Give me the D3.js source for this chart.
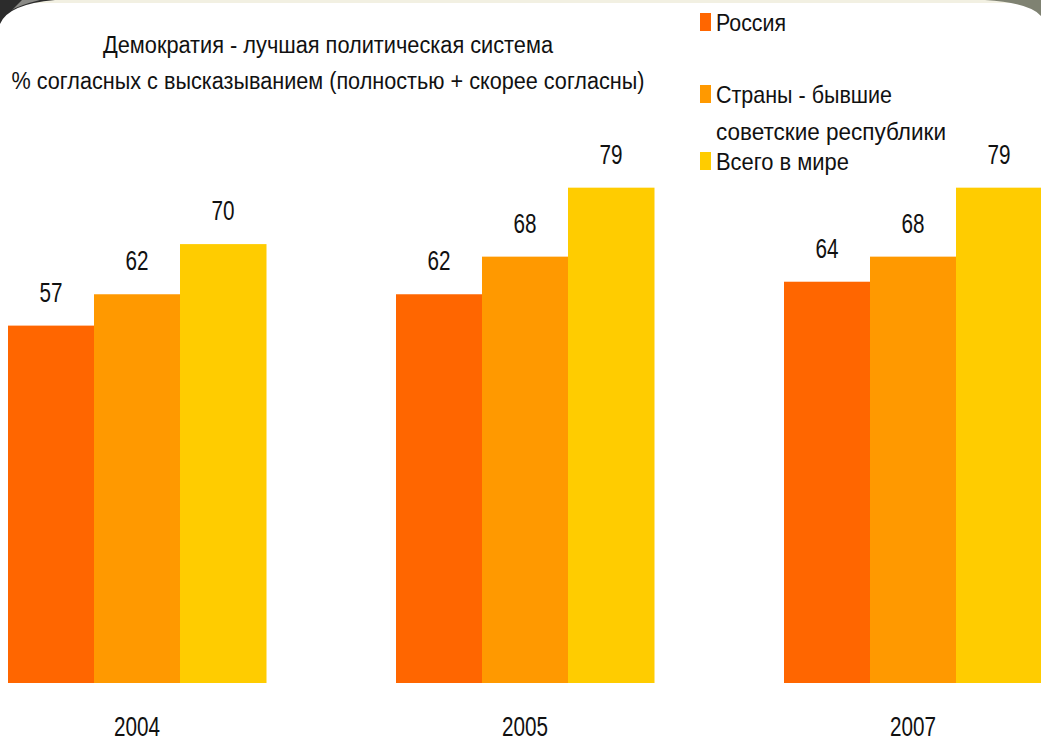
<!DOCTYPE html>
<html>
<head>
<meta charset="utf-8">
<script src="https://cdn.jsdelivr.net/npm/d3@7"></script>
<style>
  html, body { margin: 0; padding: 0; background: #ffffff; }
  svg { display: block; }
  text { font-family: "Liberation Sans Narrow", "Liberation Sans", Arial, sans-serif; fill: #111; }
</style>
</head>
<body>
<svg id="chart" width="1041" height="743"></svg>
<script>
// ---- data ----
const years = ["2004", "2005", "2007"];
const seriesNames = ["Россия", "Страны - бывшие советские республики", "Всего в мире"];
const russia = [57, 62, 64];
const formerSoviet = [62, 68, 68];
const world = [70, 79, 79];
const seriesColors = ["#FF6600", "#FF9900", "#FFCC00"];
const titleLines = ["Демократия - лучшая политическая система",
                    "% согласных с высказыванием (полностью + скорее согласны)"];
const legendLines = [["Россия"], ["Страны - бывшие", "советские республики"], ["Всего в мире"]];

const seriesValues = [russia, formerSoviet, world];
const rows = years.map((y, i) => ({ year: y, values: seriesValues.map(s => s[i]) }));

const W = 1041, H = 743;
const svg = d3.select("#chart");

// ---- slide background with dark corners ----
svg.append("rect").attr("width", W).attr("height", H).attr("fill", "#ffffff");
svg.append("rect").attr("width", W).attr("height", 3).attr("fill", "#f2f0e2");
svg.append("path")
  .attr("d", "M0,0 L55,0 Q8,4 0,24 Z")
  .attr("fill", "#2c2c2c");
svg.append("path")
  .attr("d", "M22,0 L40,0 Q20,5 12,10 Z")
  .attr("fill", "#8a8a86");
svg.append("path")
  .attr("d", `M${W},0 L985,0 Q1030,3 ${W},16 Z`)
  .attr("fill", "#7f8272");

// ---- scales ----
const x0 = d3.scaleBand().domain(years).range([8, 1042]).paddingInner(130 / 388).paddingOuter(0);
const x1 = d3.scaleBand().domain(d3.range(seriesNames.length)).range([0, x0.bandwidth()]).padding(0);
const y = d3.scaleLinear().domain([0, 100]).range([683, 56]);

// ---- bars ----
const groups = svg.append("g").selectAll("g").data(rows).join("g")
  .attr("transform", d => `translate(${x0(d.year)},0)`);

groups.selectAll("rect").data(d => d.values.map((v, i) => ({ v, i }))).join("rect")
  .attr("x", d => x1(d.i))
  .attr("y", d => y(d.v))
  .attr("width", x1.bandwidth() + 0.5)
  .attr("height", d => y(0) - y(d.v))
  .attr("fill", d => seriesColors[d.i]);

groups.selectAll("text.val").data(d => d.values.map((v, i) => ({ v, i }))).join("text")
  .attr("class", "val")
  .attr("x", d => x1(d.i) + x1.bandwidth() / 2)
  .attr("y", d => y(d.v) - 24)
  .attr("text-anchor", "middle")
  .attr("font-size", 27)
  .attr("textLength", d => String(d.v).length * 11.5)
  .attr("lengthAdjust", "spacingAndGlyphs")
  .text(d => d.v);

// ---- x axis labels ----
const xAxis = d3.axisBottom(x0).tickSize(0).tickPadding(0);
const axG = svg.append("g").attr("transform", "translate(0,710)").call(xAxis);
axG.select(".domain").remove();
axG.selectAll("text")
  .attr("dy", null)
  .attr("y", 26)
  .attr("font-size", 28)
  .attr("fill", "#111")
  .attr("textLength", 46)
  .attr("lengthAdjust", "spacingAndGlyphs")
  .style("font-family", "\"Liberation Sans Narrow\", \"Liberation Sans\", Arial, sans-serif");

// ---- title ----
const titleSpecs = [
  { x: 328, y: 53, len: 450 },
  { x: 328, y: 89, len: 633 }
];
svg.append("g").selectAll("text").data(titleLines).join("text")
  .attr("x", (d, i) => titleSpecs[i].x)
  .attr("y", (d, i) => titleSpecs[i].y)
  .attr("text-anchor", "middle")
  .attr("font-size", 23)
  .attr("textLength", (d, i) => titleSpecs[i].len)
  .attr("lengthAdjust", "spacingAndGlyphs")
  .text(d => d);

// ---- legend ----
const legendSpecs = [
  { sq: 13, lines: [{ y: 31, len: 70 }] },
  { sq: 85, lines: [{ y: 103, len: 176 }, { y: 140, len: 230 }] },
  { sq: 152, lines: [{ y: 170, len: 133 }] }
];
const leg = svg.append("g");
legendLines.forEach((lines, i) => {
  leg.append("rect")
    .attr("x", 700).attr("y", legendSpecs[i].sq)
    .attr("width", 11).attr("height", 18)
    .attr("fill", seriesColors[i]);
  lines.forEach((t, j) => {
    leg.append("text")
      .attr("x", 716)
      .attr("y", legendSpecs[i].lines[j].y)
      .attr("font-size", 24)
      .attr("textLength", legendSpecs[i].lines[j].len)
      .attr("lengthAdjust", "spacingAndGlyphs")
      .text(t);
  });
});
</script>
</body>
</html>
